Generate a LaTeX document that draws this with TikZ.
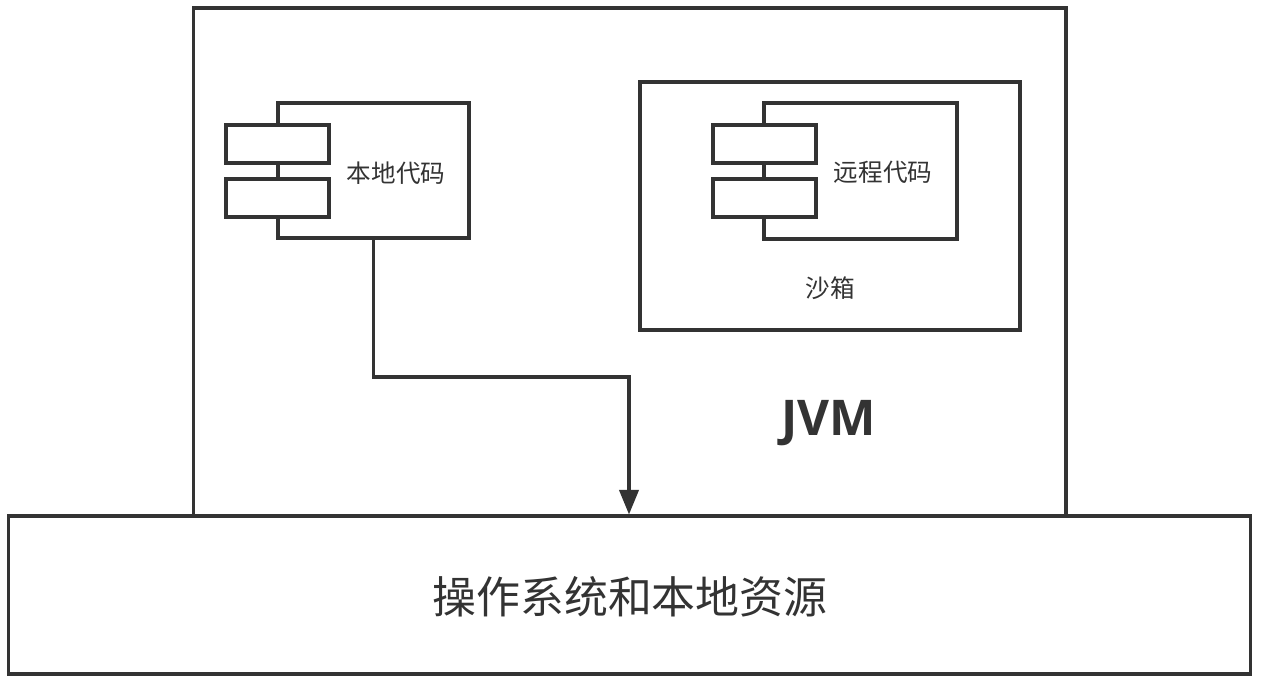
\documentclass[tikz,border=0pt]{standalone}
\usepackage{fontspec}
\newfontfamily\cjk{Noto Sans CJK SC}
\newfontfamily\latin{Open Sans}
\usetikzlibrary{arrows.meta}
\definecolor{tinta}{HTML}{333333}
\begin{document}
\begin{tikzpicture}[
  x=0.02cm, y=-0.02cm,
  marco/.style={draw=tinta, line width=1.8pt, inner sep=0pt},
  bloque/.style={marco, fill=white, minimum width=2.06cm, minimum height=0.76cm},
  texto/.style={text=tinta, inner sep=0pt, font=\cjk\fontsize{14}{16}\selectfont},
  flecha/.style={draw=tinta, line width=1.8pt, -{Triangle[length=14pt, width=11pt]}}
]
  \useasboundingbox (0,0) rectangle (1271,698);
  % contenedores
  \node[marco, minimum width=17.46cm, minimum height=10.16cm] (jvm) at (629.5,262) {};
  \node[marco, minimum width=24.86cm, minimum height=3.16cm] (so) at (629.5,595) {};
  \node[marco, minimum width=7.6cm, minimum height=4.96cm] (sandbox) at (830,206) {};
  % componente local
  \node[marco, minimum width=3.82cm, minimum height=2.7cm] (local) at (373.5,170.5) {};
  \node[bloque] (local1) at (277.5,144) {};
  \node[bloque] (local2) at (277.5,198) {};
  % componente remoto
  \node[marco, minimum width=3.86cm, minimum height=2.72cm] (remoto) at (860.5,171) {};
  \node[bloque] (remoto1) at (764.5,144) {};
  \node[bloque] (remoto2) at (764.5,198) {};
  % textos
  \node[texto] (tlocal) at (396,173) {本地代码};
  \node[texto] (tremoto) at (883,172) {远程代码};
  \node[texto] (tsandbox) at (830,288) {沙箱};
  \node[text=tinta, inner sep=0pt, font=\latin\bfseries\fontsize{28}{32}\selectfont] (tjvm) at (829,423) {JVM};
  \node[texto, font=\cjk\fontsize{25}{30}\selectfont] (tso) at (630,597) {操作系统和本地资源};
  % llamada nativa
  \coordinate (codo) at (629,377);
  \draw[flecha] (local.south) |- (codo) -- (so.north -| codo);
\end{tikzpicture}
\end{document}
